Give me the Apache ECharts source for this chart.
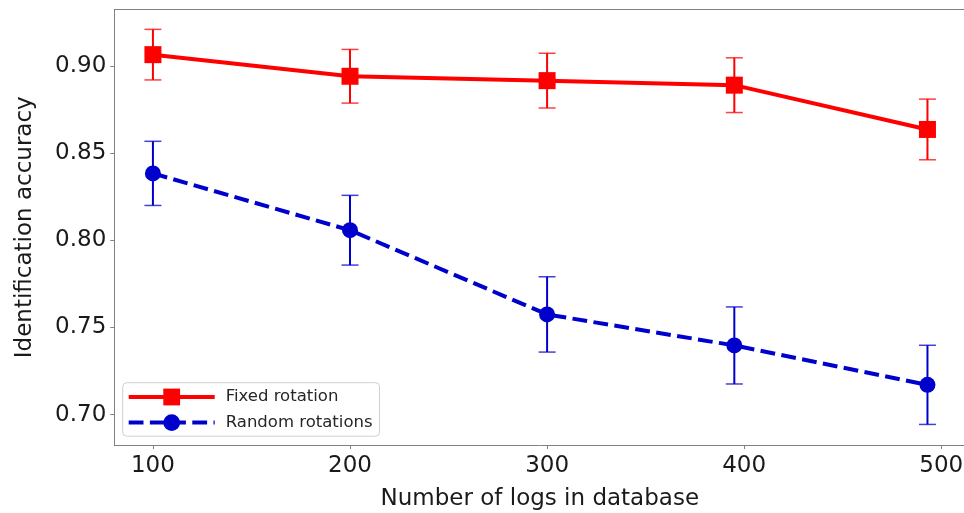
<!DOCTYPE html>
<html>
<head>
<meta charset="utf-8">
<script src="https://cdn.jsdelivr.net/npm/echarts@6/dist/echarts.min.js"></script>
<style>
  html, body { margin: 0; padding: 0; background: #fff; overflow: hidden; }
  #chart { width: 964px; height: 513px; }
</style>
</head>
<body>
<div id="chart"></div>
<script>
// Database sizes (number of logs) at which accuracy was measured
const logCounts = [100, 200, 300, 395, 493];

// Mean identification accuracy and error-bar half-widths
const fixedAccuracy = [0.9065, 0.8941, 0.8916, 0.8890, 0.8636];
const fixedError    = [0.0145, 0.0154, 0.0157, 0.0157, 0.0174];
const randomAccuracy = [0.8384, 0.8058, 0.7575, 0.7397, 0.7171];
const randomError    = [0.0184, 0.0200, 0.0216, 0.0221, 0.0227];

// Tick labels
const xTicks = [100, 200, 300, 400, 500];
const yTicks = [0.70, 0.75, 0.80, 0.85, 0.90];

const FONT = "'DejaVu Sans', 'Liberation Sans', sans-serif";
const RED = '#ff0000';
const BLUE = '#0000cd';
const SPINE = '#808080';
const INK = '#1a1a1a';

function points(values) {
  return logCounts.map((x, i) => [x, values[i]]);
}
function errPoints(values, errs) {
  return logCounts.map((x, i) => [x, values[i], errs[i]]);
}

// Vertical error bar with caps, centred on each mean value
function errorBars(color) {
  return function (params, api) {
    const x = api.value(0), y = api.value(1), e = api.value(2);
    const top = api.coord([x, y + e]);
    const bot = api.coord([x, y - e]);
    const half = 8.5;
    return {
      type: 'group',
      children: [
        { type: 'line', shape: { x1: top[0], y1: top[1], x2: bot[0], y2: bot[1] },
          style: { stroke: color, lineWidth: 2 } },
        { type: 'line', shape: { x1: top[0] - half, y1: top[1], x2: top[0] + half, y2: top[1] },
          style: { stroke: color, lineWidth: 1.5, opacity: 0.75 } },
        { type: 'line', shape: { x1: bot[0] - half, y1: bot[1], x2: bot[0] + half, y2: bot[1] },
          style: { stroke: color, lineWidth: 1.5, opacity: 0.75 } }
      ]
    };
  };
}

const chart = echarts.init(document.getElementById('chart'), null, { renderer: 'canvas' });

const xMin = 80.4, xMax = 512.2;

chart.setOption({
  animation: false,
  backgroundColor: '#ffffff',
  textStyle: { fontFamily: FONT },
  grid: {
    left: 114.3, top: 9.5, right: -1.3, bottom: 68,
    show: false, containLabel: false, outerBoundsMode: 'none'
  },
  legend: {
    data: ['Fixed rotation', 'Random rotations'],
    orient: 'vertical',
    left: 122.7, top: 382.7,
    itemWidth: 86, itemHeight: 21, itemGap: 8.6,
    padding: [5.8, 7, 5.1, 4],
    backgroundColor: 'rgba(255,255,255,0.8)',
    borderColor: '#d0d0d0', borderWidth: 1, borderRadius: 4,
    lineStyle: { width: 4 },
    textStyle: { fontFamily: FONT, fontSize: 16.5, color: '#262626', padding: [0, 0, 0, 6] }
  },
  xAxis: [
    {
      type: 'value',
      min: xMin, max: xMax,
      name: 'Number of logs in database',
      nameLocation: 'middle', nameGap: 42.5,
      nameTextStyle: { fontFamily: FONT, fontSize: 23, color: INK },
      splitLine: { show: false },
      axisLine: { show: true, onZero: false, lineStyle: { color: SPINE, width: 1 } },
      axisTick: { show: true, length: 4, lineStyle: { color: SPINE }, customValues: xTicks },
      axisLabel: { fontFamily: FONT, fontSize: 23, color: INK, margin: 10, customValues: xTicks }
    },
    {
      // top spine only
      type: 'value', position: 'top',
      min: xMin, max: xMax,
      splitLine: { show: false },
      axisLine: { show: true, onZero: false, lineStyle: { color: SPINE, width: 1 } },
      axisTick: { show: false },
      axisLabel: { show: false }
    }
  ],
  yAxis: {
    type: 'value',
    min: 0.6826, max: 0.9324,
    name: 'Identification accuracy',
    nameLocation: 'middle', nameGap: 78,
    nameTextStyle: { fontFamily: FONT, fontSize: 23, color: INK },
    splitLine: { show: false },
    axisLine: { show: true, onZero: false, lineStyle: { color: SPINE, width: 1 } },
    axisTick: { show: true, length: 4, lineStyle: { color: SPINE }, customValues: yTicks },
    axisLabel: {
      fontFamily: FONT, fontSize: 23, color: INK, margin: 8,
      customValues: yTicks,
      formatter: v => v.toFixed(2)
    }
  },
  series: [
    {
      name: 'Fixed rotation error', type: 'custom',
      renderItem: errorBars(RED),
      encode: { x: 0, y: 1 },
      data: errPoints(fixedAccuracy, fixedError), z: 2, silent: true
    },
    {
      name: 'Fixed rotation', type: 'line',
      data: points(fixedAccuracy),
      symbol: 'rect', symbolSize: 17,
      itemStyle: { color: RED },
      lineStyle: { color: RED, width: 4 },
      z: 3
    },
    {
      name: 'Random rotations error', type: 'custom',
      renderItem: errorBars(BLUE),
      encode: { x: 0, y: 1 },
      data: errPoints(randomAccuracy, randomError), z: 4, silent: true
    },
    {
      name: 'Random rotations', type: 'line',
      data: points(randomAccuracy),
      symbol: 'circle', symbolSize: 16,
      itemStyle: { color: BLUE },
      lineStyle: { color: BLUE, width: 4, type: [14.8, 6.4] },
      z: 5
    }
  ]
});
</script>
</body>
</html>
